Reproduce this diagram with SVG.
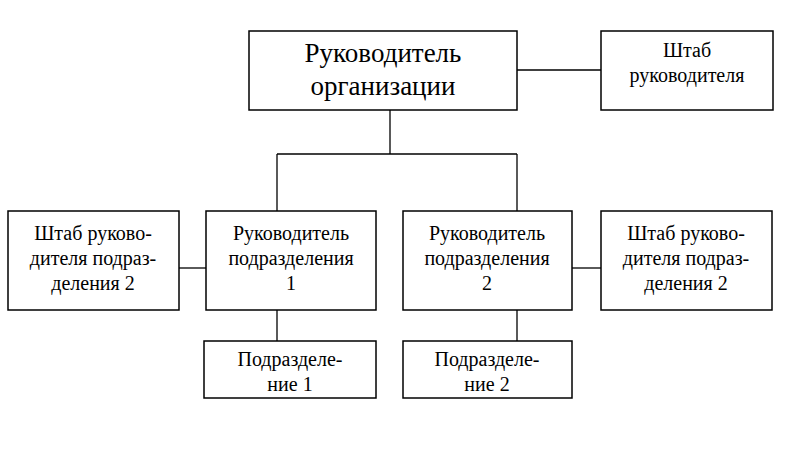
<svg xmlns="http://www.w3.org/2000/svg" width="806" height="459" viewBox="0 0 806 459">
<style>
rect{fill:#fff;stroke:#000;stroke-width:1.5}
text{font-family:'Liberation Serif','Times New Roman','DejaVu Serif',serif;font-size:20px;text-anchor:middle;fill:#000}
.big{font-size:27px}
#c line{stroke:#000;stroke-width:1.3}
</style>
<rect x="0" y="0" width="806" height="459" style="stroke:none"/>
<g id="c">
<line x1="517" y1="70" x2="601" y2="70"/>
<line x1="390" y1="110" x2="390" y2="154"/>
<line x1="277" y1="154" x2="517" y2="154"/>
<line x1="277" y1="154" x2="277" y2="211"/>
<line x1="517" y1="154" x2="517" y2="211"/>
<line x1="179" y1="268" x2="206" y2="268"/>
<line x1="572" y1="268" x2="601" y2="268"/>
<line x1="277" y1="310" x2="277" y2="341"/>
<line x1="517" y1="310" x2="517" y2="341"/>
</g>
<g id="top"><rect x="249" y="31" width="268" height="79"/><text class="big" x="383" y="62">Руководитель</text><text class="big" x="383" y="95">организации</text></g>
<g id="shtab"><rect x="601" y="31" width="172" height="79"/><text x="687" y="57">Штаб</text><text x="687" y="82">руководителя</text></g>
<g id="sh1"><rect x="8" y="211" width="171" height="99"/><text x="93" y="240">Штаб руково-</text><text x="93" y="265">дителя подраз-</text><text x="93" y="290">деления 2</text></g>
<g id="r1"><rect x="206" y="211" width="170" height="99"/><text x="291" y="240">Руководитель</text><text x="291" y="265">подразделения</text><text x="291" y="290">1</text></g>
<g id="r2"><rect x="403" y="211" width="169" height="99"/><text x="487" y="240">Руководитель</text><text x="487" y="265">подразделения</text><text x="487" y="290">2</text></g>
<g id="sh2"><rect x="601" y="211" width="171" height="99"/><text x="686" y="240">Штаб руково-</text><text x="686" y="265">дителя подраз-</text><text x="686" y="290">деления 2</text></g>
<g id="p1"><rect x="204" y="341" width="172" height="57"/><text x="290" y="366">Подразделе-</text><text x="290" y="391">ние 1</text></g>
<g id="p2"><rect x="403" y="341" width="169" height="57"/><text x="487" y="366">Подразделе-</text><text x="487" y="391">ние 2</text></g>
</svg>
